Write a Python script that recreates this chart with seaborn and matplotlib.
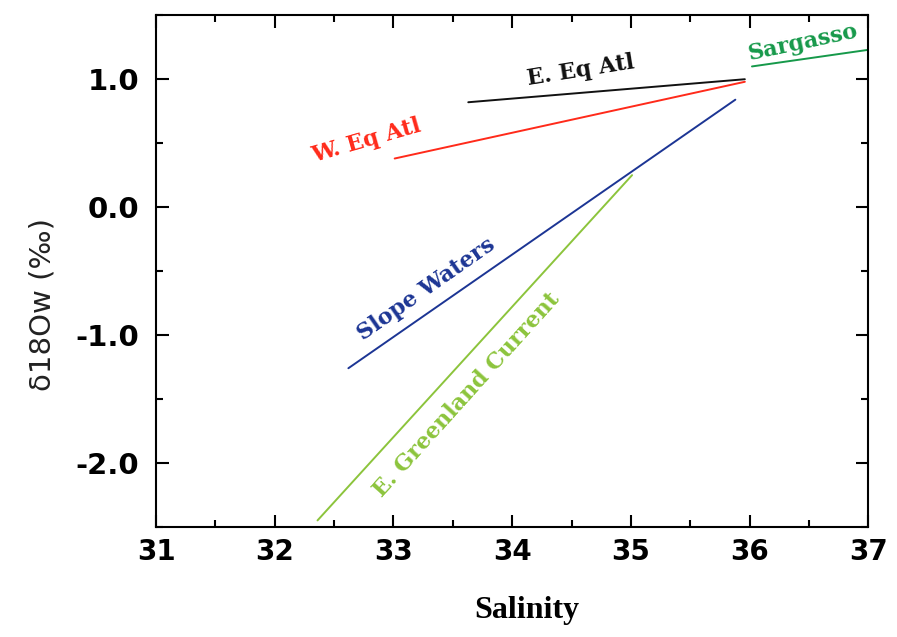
import matplotlib
matplotlib.use("Agg")
from matplotlib import pyplot as plt
import matplotlib.ticker as mticker
import pandas as pd
import seaborn as sns

# water mass mixing lines: (salinity, d18Ow) end points
names = ["E. Eq Atl", "W. Eq Atl", "Slope Waters", "E. Greenland Current", "Sargasso"]
sal_start = [33.63, 33.01, 32.62, 32.36, 36.02]
sal_end = [35.96, 35.96, 35.88, 35.01, 37.00]
d18o_start = [0.82, 0.38, -1.26, -2.45, 1.10]
d18o_end = [1.00, 0.98, 0.84, 0.25, 1.23]
colors = ["#111111", "#ff2a1a", "#1c3594", "#8cc43c", "#16994a"]

# label placement for each line
label_x = [34.58, 32.77, 33.28, 33.62, 36.45]
label_y = [1.07, 0.52, -0.64, -1.47, 1.29]
label_rot = [9, 16, 35, 48, 12]

rows = []
for n, x0, x1, y0, y1 in zip(names, sal_start, sal_end, d18o_start, d18o_end):
    rows.append({"Water": n, "Salinity": x0, "d18Ow": y0})
    rows.append({"Water": n, "Salinity": x1, "d18Ow": y1})
df = pd.DataFrame(rows)

sns.set_theme(style="ticks")
plt.rcParams['font.family'] = ['DejaVu Sans']

fig = plt.figure(figsize=(8.97, 6.37), dpi=100)
ax = fig.add_axes([0.174, 0.173, 0.794, 0.803])

sns.lineplot(data=df, x="Salinity", y="d18Ow", hue="Water", palette=dict(zip(names, colors)),
             estimator=None, sort=False, linewidth=1.4, legend=False, ax=ax)

for n, c, lx, ly, r in zip(names, colors, label_x, label_y, label_rot):
    ax.text(lx, ly, n, color=c, rotation=r, ha="center", va="center",
            rotation_mode="anchor", fontsize=16, fontweight="bold", family="DejaVu Serif")

ax.set_xlim(31, 37)
ax.set_ylim(-2.5, 1.5)
ax.xaxis.set_major_locator(mticker.MultipleLocator(1))
ax.xaxis.set_minor_locator(mticker.MultipleLocator(0.5))
ax.yaxis.set_major_locator(mticker.FixedLocator([-2.0, -1.0, 0.0, 1.0]))
ax.yaxis.set_minor_locator(mticker.MultipleLocator(0.5))
ax.yaxis.set_major_formatter(mticker.FormatStrFormatter("%.1f"))

ax.tick_params(which="both", direction="in", top=True, right=True, width=1.5, color="black",
               labelcolor="black")
ax.tick_params(which="major", length=9, labelsize=20)
ax.tick_params(axis="x", which="major", pad=8)
ax.tick_params(axis="y", which="major", labelsize=21, pad=12)
ax.tick_params(which="minor", length=5)
for lab in ax.get_xticklabels() + ax.get_yticklabels():
    lab.set_fontweight("bold")
for s in ax.spines.values():
    s.set_linewidth(1.5)
    s.set_color("black")

ax.set_xlabel("Salinity", fontsize=23, fontweight="bold", family="Liberation Serif",
              color="black", labelpad=22)
ax.xaxis.label.set_x(0.52)
ax.set_ylabel("δ18Ow (‰)", fontsize=21, color="#222222", labelpad=14)
ax.yaxis.label.set_y(0.434)

fig.savefig("out.png", dpi=100)
